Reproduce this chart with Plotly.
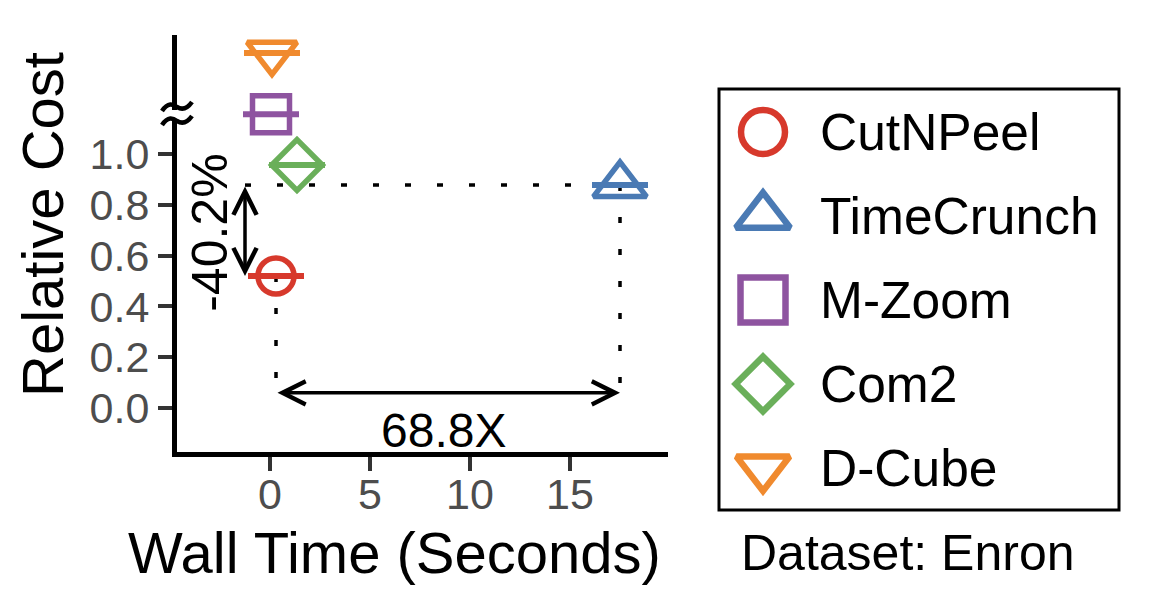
import plotly.graph_objects as go

# ---------------- data ----------------
methods = ["CutNPeel", "TimeCrunch", "M-Zoom", "Com2", "D-Cube"]
wall_time = [0.3, 17.5, 0.05, 1.35, 0.1]          # seconds
rel_cost = [0.52, 0.878, 1.157, 0.957, 1.398]     # relative cost (M-Zoom, D-Cube above axis break)
time_err = [1.4, 1.4, 1.4, 1.4, 1.4]              # horizontal error (s)

colors = ["#D7392C", "#4A7AB4", "#8E54A0", "#6AAF5A", "#F08A2E"]
symbols = ["circle-open", "triangle-up-open", "square-open", "diamond-open", "triangle-down-open"]
plot_sizes = [36, 46, 37, 39, 43]
legend_sizes = [44, 47, 45, 42, 46]

x_ticks = [0, 5, 10, 15]
y_ticks = [0.0, 0.2, 0.4, 0.6, 0.8, 1.0]
y_tick_labels = ["0.0", "0.2", "0.4", "0.6", "0.8", "1.0"]

speedup_label = "68.8X"
cost_label = "-40.2%"
dataset_label = "Dataset: Enron"
x_title = "Wall Time (Seconds)"
y_title = "Relative Cost"

# annotation guide levels
arrow_y = 0.06        # level of the horizontal double arrow
arrow_x = -1.25       # x of the vertical double arrow

W, H = 1158, 614
FONT = "Liberation Sans, Arial, sans-serif"


def px(x):
    return x / W


def py(y):
    return 1 - y / H


fig = go.Figure()

# guide dotted lines (derived from CutNPeel / TimeCrunch points)
cx, cy = wall_time[0], rel_cost[0]
tx, ty = wall_time[1], rel_cost[1]
dot = dict(color="black", width=3.5, dash="6px,26px")
fig.add_trace(go.Scatter(x=[arrow_x, tx], y=[ty, ty], mode="lines", line=dot,
                         showlegend=False, hoverinfo="skip"))
fig.add_trace(go.Scatter(x=[cx, cx], y=[cy, arrow_y], mode="lines", line=dot,
                         showlegend=False, hoverinfo="skip"))
fig.add_trace(go.Scatter(x=[tx, tx], y=[ty, arrow_y], mode="lines", line=dot,
                         showlegend=False, hoverinfo="skip"))

# data points with horizontal error bars
for i, m in enumerate(methods):
    fig.add_trace(go.Scatter(
        x=[wall_time[i]], y=[rel_cost[i]], mode="markers", name=m,
        marker=dict(symbol=symbols[i], size=plot_sizes[i], color=colors[i],
                    line=dict(width=5.5, color=colors[i])),
        error_x=dict(type="data", array=[time_err[i]], symmetric=True,
                     color=colors[i], thickness=6, width=0),
        showlegend=False, cliponaxis=False,
    ))

# manual legend in a second (hidden) axis system
for i, m in enumerate(methods):
    fig.add_trace(go.Scatter(
        x=[44], y=[i], mode="markers", xaxis="x2", yaxis="y2",
        marker=dict(symbol=symbols[i], size=legend_sizes[i], color=colors[i],
                    line=dict(width=6.5, color=colors[i])),
        showlegend=False, hoverinfo="skip", cliponaxis=False,
    ))

annotations = []
for i, m in enumerate(methods):
    annotations.append(dict(x=99, y=i, xref="x2", yref="y2", text=m, showarrow=False,
                            xanchor="left", yanchor="middle",
                            font=dict(family=FONT, size=51.5, color="black")))

# double arrows
annotations.append(dict(x=tx, y=arrow_y, ax=cx, ay=arrow_y, xref="x", yref="y",
                        axref="x", ayref="y", text="", showarrow=True,
                        arrowhead=5, startarrowhead=5, arrowside="end+start",
                        arrowsize=1.3, startarrowsize=1.3, arrowwidth=3.5,
                        arrowcolor="black", standoff=0, startstandoff=0))
annotations.append(dict(x=arrow_x, y=cy, ax=arrow_x, ay=ty, xref="x", yref="y",
                        axref="x", ayref="y", text="", showarrow=True,
                        arrowhead=5, startarrowhead=5, arrowside="end+start",
                        arrowsize=1.3, startarrowsize=1.3, arrowwidth=3.5,
                        arrowcolor="black", standoff=0, startstandoff=0))
annotations.append(dict(x=8.65, y=-0.09, xref="x", yref="y", text=speedup_label,
                        showarrow=False, xanchor="center", yanchor="middle",
                        font=dict(family=FONT, size=48, color="black")))
annotations.append(dict(x=-3.0, y=0.69, xref="x", yref="y", text=cost_label,
                        showarrow=False, textangle=-90, xanchor="center", yanchor="middle",
                        font=dict(family=FONT, size=50, color="black")))
# axis titles and dataset caption
annotations.append(dict(x=px(43), y=py(225), xref="paper", yref="paper", text=y_title,
                        showarrow=False, textangle=-90, xanchor="center", yanchor="middle",
                        font=dict(family=FONT, size=58, color="black")))
annotations.append(dict(x=px(394), y=py(552), xref="paper", yref="paper", text=x_title,
                        showarrow=False, xanchor="center", yanchor="middle",
                        font=dict(family=FONT, size=58, color="black")))
annotations.append(dict(x=px(908), y=py(553), xref="paper", yref="paper", text=dataset_label,
                        showarrow=False, xanchor="center", yanchor="middle",
                        font=dict(family=FONT, size=50, color="black")))

# shapes: legend box and axis break mark
shapes = [
    dict(type="rect", xref="x2 domain", yref="y2 domain", x0=0, x1=1, y0=0, y1=1,
         line=dict(color="black", width=3), fillcolor="rgba(0,0,0,0)"),
    dict(type="rect", xref="paper", yref="paper", x0=px(172), x1=px(183),
         y0=py(120), y1=py(110), line=dict(width=0), fillcolor="white", layer="above"),
]


def tilde(yc):
    pts = [(162, yc + 4), (168, yc - 5), (173, yc - 3), (177, yc),
           (182, yc + 3), (187, yc + 2), (192, yc - 5)]
    p = "M{},{}".format(px(pts[0][0]), py(pts[0][1]))
    p += " C{},{} {},{} {},{}".format(px(pts[1][0]), py(pts[1][1]), px(pts[2][0]),
                                       py(pts[2][1]), px(pts[3][0]), py(pts[3][1]))
    p += " C{},{} {},{} {},{}".format(px(pts[4][0]), py(pts[4][1]), px(pts[5][0]),
                                       py(pts[5][1]), px(pts[6][0]), py(pts[6][1]))
    return p


for yc in (107, 121):
    shapes.append(dict(type="path", xref="paper", yref="paper", path=tilde(yc),
                       line=dict(color="black", width=4.5), layer="above"))

axis_common = dict(showgrid=False, zeroline=False, showline=True, linecolor="black",
                   linewidth=5, ticks="outside", ticklen=14, tickwidth=4,
                   tickcolor="#333333", automargin=False,
                   tickfont=dict(family=FONT, size=43, color="#4D4D4D"))

fig.update_layout(
    width=W, height=H, template="none",
    margin=dict(l=0, r=0, t=0, b=0),
    paper_bgcolor="white", plot_bgcolor="white",
    showlegend=False,
    xaxis=dict(domain=[px(177), px(668)], range=[-4.65, 19.9], ticklabelstandoff=-14,
               tickvals=x_ticks, ticktext=[str(v) for v in x_ticks], **axis_common),
    yaxis=dict(domain=[py(452), py(35)], range=[-0.173, 1.469],
               tickvals=y_ticks, ticktext=y_tick_labels, **axis_common),
    xaxis2=dict(domain=[px(719), px(1119)], range=[0, 400], visible=False,
                anchor="y2"),
    yaxis2=dict(domain=[py(510), py(89)], range=[4.5, -0.512], visible=False,
                anchor="x2"),
    annotations=annotations,
    shapes=shapes,
)

fig.write_html("out.html", config={"displayModeBar": False},
               post_script="document.body.style.margin='0';document.body.style.overflow='hidden';")
